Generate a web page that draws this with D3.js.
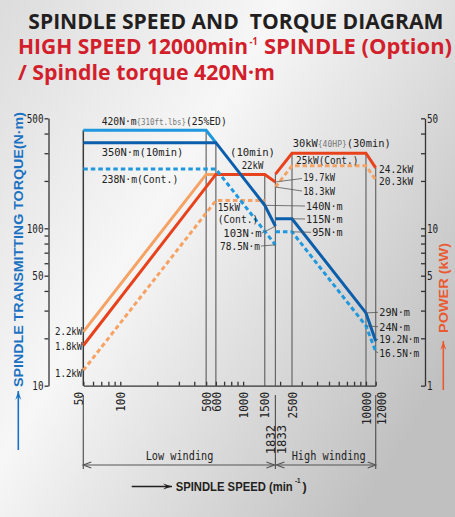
<!DOCTYPE html>
<html><head><meta charset="utf-8">
<script src="https://cdn.jsdelivr.net/npm/d3@7"></script>
<style>
html,body{margin:0;padding:0;background:#ddd;}
svg{display:block;}
text{white-space:pre;}
</style>
</head><body>
<svg id="c" width="455" height="517"></svg>
<script>
// ---------------- DATA ----------------
// [speed min^-1, torque N·m]
const lowTorque25ED   = [[50,420],[500,420],[600,350]];
const lowTorque10min  = [[50,350],[600,350],[1500,140],[1832,103]];
const lowTorqueCont   = [[50,238],[600,238],[1832,78.5]];
const highTorque30min = [[1833,115],[2500,115],[10000,29],[12000,19.2]];
const highTorqueCont  = [[1833,95],[2500,95],[10000,24],[12000,16.5]];
// [speed min^-1, power kW]
const lowPower25ED    = [[50,2.2],[500,22],[600,22]];
const lowPower10min   = [[50,1.8],[600,22],[1500,22],[1832,19.7]];
const lowPowerCont    = [[50,1.25],[600,15],[1500,15]];
const highPower30min  = [[1833,22.1],[2500,30],[10000,30],[12000,24.2]];
const highPowerCont   = [[1833,18.3],[2500,25],[10000,25],[12000,20.3]];

const speedTickLabels  = [50,100,500,600,1000,1500,2500,10000,12000];
const windingTickLabels = [1832,1833];
const torqueTickLabels = [10,50,100,500];
const powerTickLabels  = [1,5,10,50];
const gridSpeeds       = [50,500,600,1500,1832,2500,10000,12000];
const windingBounds    = [50,1832,12000];

// ---------------- SETUP ----------------
const svg = d3.select("#c");
const defs = svg.append("defs");
const bg = defs.append("linearGradient").attr("id","bg")
  .attr("x1","0").attr("y1","0").attr("x2","1").attr("y2","0.7");
bg.append("stop").attr("offset","0").attr("stop-color","#dcdcdc");
bg.append("stop").attr("offset","0.42").attr("stop-color","#f7f7f7");
bg.append("stop").attr("offset","1").attr("stop-color","#c0c0c0");
svg.append("rect").attr("width",455).attr("height",517).attr("fill","url(#bg)");

const MONO = "'DejaVu Sans Mono', monospace";
const SANS = "'Liberation Sans', Arial, sans-serif";
const TITLE = "'Open Sans', 'Noto Sans', sans-serif";

const x  = d3.scaleLog().domain([50,12000]).range([83.3,375.7]);
const yT = d3.scaleLog().domain([10,500]).range([385.7,118.3]);
const yP = d3.scaleLog().domain([1,50]).range([385.7,118.3]);
const lineT = d3.line().x(d=>x(d[0])).y(d=>yT(d[1]));
const lineP = d3.line().x(d=>x(d[0])).y(d=>yP(d[1]));

function fit(sel, w){ if(w) sel.attr("textLength", w).attr("lengthAdjust","spacingAndGlyphs"); return sel; }

// ---------------- TITLES ----------------
fit(svg.append("text").attr("x",28.3).attr("y",28.5)
  .attr("font-family",TITLE).attr("font-weight",700).attr("font-size",21.5)
  .attr("fill","#231f20").text("SPINDLE SPEED AND  TORQUE DIAGRAM"), 415);
fit(svg.append("text").attr("x",18).attr("y",54.3)
  .attr("font-family",TITLE).attr("font-weight",700).attr("font-size",20.5).attr("fill","#d21f2b")
  .text("HIGH SPEED 12000min"), 230);
fit(svg.append("text").attr("x",249.5).attr("y",45)
  .attr("font-family",TITLE).attr("font-weight",700).attr("font-size",10).attr("fill","#d21f2b")
  .text("-1"), 8);
fit(svg.append("text").attr("x",264).attr("y",54.3)
  .attr("font-family",TITLE).attr("font-weight",700).attr("font-size",20.5).attr("fill","#d21f2b")
  .text("SPINDLE (Option)"), 188);
fit(svg.append("text").attr("x",18).attr("y",80)
  .attr("font-family",TITLE).attr("font-weight",700).attr("font-size",20.5)
  .attr("fill","#d21f2b").text("/ Spindle torque 420N·m"), 257);

// ---------------- GRID LINES ----------------
const allSeries = [
  {d:lowTorque25ED,s:yT},{d:lowTorque10min,s:yT},{d:lowTorqueCont,s:yT},
  {d:highTorque30min,s:yT},{d:highTorqueCont,s:yT},
  {d:lowPower25ED,s:yP},{d:lowPower10min,s:yP},{d:lowPowerCont,s:yP},
  {d:highPower30min,s:yP},{d:highPowerCont,s:yP}];
function topY(sp){
  let best = Infinity;
  allSeries.forEach(ser=>{
    const d = ser.d;
    if (sp < d[0][0]-1.5 || sp > d[d.length-1][0]+1.5) return;
    const s = Math.min(Math.max(sp,d[0][0]),d[d.length-1][0]);
    for (let i=0;i<d.length-1;i++){
      if (s>=d[i][0] && s<=d[i+1][0]){
        const t = (Math.log(s)-Math.log(d[i][0]))/(Math.log(d[i+1][0])-Math.log(d[i][0]));
        const v = Math.exp(Math.log(d[i][1])+t*(Math.log(d[i+1][1])-Math.log(d[i][1])));
        best = Math.min(best, ser.s(v));
      }
    }
  });
  return best;
}
const grid = svg.append("g");
grid.selectAll("line").data(gridSpeeds).join("line")
  .attr("x1",d=>x(d)).attr("x2",d=>x(d))
  .attr("y1",d=>topY(d)).attr("y2",yT(10))
  .attr("stroke",d=>d===50?"#3a3a3a":"#666").attr("stroke-width",d=>d===50?1.5:1.2);
grid.selectAll("line.ext").data(windingBounds).join("line").attr("class","ext")
  .attr("x1",d=>x(d)).attr("x2",d=>x(d)).attr("y1",395).attr("y2",469)
  .attr("stroke","#555").attr("stroke-width",1.2);

// ---------------- AXES ----------------
const logTicks = (lo,hi)=>{const r=[];for(let e=0;e<6;e++)for(let m=1;m<10;m++){const v=m*Math.pow(10,e);if(v>=lo&&v<=hi)r.push(v);}return r;};
function styleAxis(g){
  g.selectAll("path,line").attr("stroke","#333").attr("stroke-width",1.3);
  g.selectAll("text").attr("font-family",MONO).attr("font-size",12.5).attr("fill","#222");
}
const gL = svg.append("g").attr("transform","translate(48.5,0)")
  .call(d3.axisLeft(yT).tickValues(logTicks(10,500)).tickSize(4).tickSizeOuter(0).tickPadding(1)
     .tickFormat(d=>torqueTickLabels.includes(d)?String(d):""));
styleAxis(gL);
gL.selectAll("text").each(function(){const t=d3.select(this);const n=t.text().length;if(n)fit(t,n*5.6);});

const gR = svg.append("g").attr("transform","translate(425,0)")
  .call(d3.axisRight(yP).tickValues(logTicks(1,50)).tickSize(-4).tickSizeOuter(0).tickPadding(2)
     .tickFormat(d=>powerTickLabels.includes(d)?String(d):""));
styleAxis(gR);
gR.selectAll("text").each(function(){const t=d3.select(this);const n=t.text().length;if(n)fit(t,n*5.6);});

const gB = svg.append("g").attr("transform",`translate(0,${yT(10)})`)
  .call(d3.axisBottom(x).tickValues(logTicks(50,10000).concat([12000])).tickSize(-4).tickSizeOuter(0).tickFormat(""));
styleAxis(gB);

// rotated speed labels
const labOff = {50:-5, 12000:6};
svg.append("g").selectAll("text").data(speedTickLabels).join("text")
  .attr("transform",d=>`translate(${x(d)+(labOff[d]||0)},392) rotate(-90)`)
  .attr("text-anchor","end").attr("dy","0.36em")
  .attr("font-family",MONO).attr("font-size",13).attr("fill","#222")
  .text(d=>String(d)).each(function(d){fit(d3.select(this),String(d).length*6.6);});
svg.append("g").selectAll("text").data(windingTickLabels).join("text")
  .attr("transform",(d,i)=>`translate(${x(d)+(i===0?-4.8:6.2)},425) rotate(-90)`)
  .attr("text-anchor","end").attr("dy","0.36em")
  .attr("font-family",MONO).attr("font-size",13).attr("fill","#222")
  .text(d=>String(d)).each(function(d){fit(d3.select(this),String(d).length*7.3);});

// winding dimension arrows
const dim = svg.append("g").attr("stroke","#555").attr("stroke-width",1.2).attr("fill","none");
[[50,1832],[1832,12000]].forEach(([a,b])=>{
  const xa=x(a)+(a===1832?1:0), xb=x(b)-(b===1832?1:0), yy=465;
  dim.append("line").attr("x1",xa).attr("x2",xb).attr("y1",yy).attr("y2",yy);
  dim.append("path").attr("d",`M${xa+8},${yy-3}L${xa},${yy}L${xa+8},${yy+3}`);
  dim.append("path").attr("d",`M${xb-8},${yy-3}L${xb},${yy}L${xb-8},${yy+3}`);
});
fit(svg.append("text").attr("x",145.7).attr("y",460).attr("font-family",MONO).attr("font-size",12.5)
  .attr("fill","#222").text("Low winding"),67.7);
fit(svg.append("text").attr("x",291.7).attr("y",460).attr("font-family",MONO).attr("font-size",12.5)
  .attr("fill","#222").text("High winding"),74);

// ---------------- CURVES ----------------
const curves = svg.append("g").attr("fill","none").attr("stroke-width",3);
const ORANGE="#f6a264", RED="#e8421c", LBLUE="#1f98de", DBLUE="#0b5eab";
[[lowPowerCont,lineP,ORANGE,"4.5,3"],[highPowerCont,lineP,ORANGE,"4.5,3"],
 [lowPower25ED,lineP,ORANGE,null],
 [lowPower10min,lineP,RED,null],[highPower30min,lineP,RED,null],
 [lowTorqueCont,lineT,LBLUE,"4.5,3"],[highTorqueCont,lineT,LBLUE,"4.5,3"],
 [lowTorque25ED,lineT,LBLUE,null],
 [lowTorque10min,lineT,DBLUE,null],[highTorque30min,lineT,DBLUE,null]
].forEach(([d,gen,col,dash])=>{
  curves.append("path").attr("d",gen(d)).attr("stroke",col)
    .attr("stroke-dasharray",dash).attr("stroke-linejoin","miter");
});

// ---------------- ANNOTATIONS ----------------
const ann = svg.append("g").attr("font-family",MONO).attr("font-size",11).attr("fill","#222");
function label(parts,x0,cy,w,anchor,fs){
  const t = ann.append("text").attr("x",x0).attr("y",cy).attr("dy","0.36em")
    .attr("text-anchor",anchor||"start");
  if(fs) t.attr("font-size",fs);
  parts.forEach(p=>{
    const s=t.append("tspan").text(p.s);
    if(p.small) s.attr("font-size",8.5).attr("fill","#777");
  });
  fit(t,w);
}
label([{s:"420N·m"},{s:"{310ft.lbs}",small:1},{s:"(25%ED)"}],101.7,121,125);
label([{s:"350N·m(10min)"}],101.7,152.3,81.7);
label([{s:"238N·m(Cont.)"}],101.7,179,76.6);
label([{s:"(10min)"}],230,152.3,45);
label([{s:"22kW"}],241.7,165,21.6);
label([{s:"30kW"},{s:"{40HP}",small:1},{s:"(30min)"}],292.7,142.7,98);
label([{s:"25kW(Cont.)"}],296,160,62.3);
label([{s:"19.7kW"}],303.3,176.7,31.7);
label([{s:"18.3kW"}],303.3,190.7,31.7);
label([{s:"140N·m"}],306,206,36.7);
label([{s:"115N·m"}],306,219,36.7);
label([{s:"95N·m"}],312.3,232.3,30.4);
label([{s:"24.2kW"}],379,169,34.3);
label([{s:"20.3kW"}],379,181,34.3);
label([{s:"15kW"}],217.7,207.4,22.3,null,10.5);
label([{s:"(Cont.)"}],217.7,219.2,40.6,null,10.5);
label([{s:"103N·m"}],223.3,232.7,38.4);
label([{s:"78.5N·m"}],220,246,40);
label([{s:"29N·m"}],379.3,312.3,30.7);
label([{s:"24N·m"}],379.3,326.7,30.7);
label([{s:"19.2N·m"}],379.3,339,40);
label([{s:"16.5N·m"}],379.3,352.7,40);
label([{s:"2.2kW"}],82.3,331,27.3,"end");
label([{s:"1.8kW"}],82.3,346,27.3,"end");
label([{s:"1.2kW"}],82.3,372.7,27.3,"end");

// leaders: [labelX, labelY, pointSpeed, value, scale]
const leaders = svg.append("g").attr("stroke","#555").attr("stroke-width",0.8);
[[302,178.5,1832,19.7,yP],[302,191,1833,18.3,yP],[305,206,1500,140,yT],
 [305,219,2500,115,yT],[311,232.3,2500,95,yT],[262,233,1832,103,yT],
 [261,246,1832,78.5,yT],[378,312.3,10000,29,yT],[378,326.7,10000,24,yT],
 [378,339,12000,19.2,yT],[378,352.7,12000,16.5,yT]
].forEach(([lx,ly,s,v,sc])=>{
  leaders.append("line").attr("x1",lx).attr("y1",ly).attr("x2",x(s)).attr("y2",sc(v));
});

// ---------------- AXIS TITLES ----------------
fit(svg.append("text").attr("transform","translate(18.3,249.5) rotate(-90)")
  .attr("text-anchor","middle").attr("dy","0.36em")
  .attr("font-family",SANS).attr("font-weight",700).attr("font-size",12.5).attr("fill","#1b72c2")
  .text("SPINDLE TRANSMITTING TORQUE(N·m)"),275);
fit(svg.append("text").attr("transform","translate(443.3,288) rotate(-90)")
  .attr("text-anchor","middle").attr("dy","0.36em")
  .attr("font-family",SANS).attr("font-weight",700).attr("font-size",12.5).attr("fill","#ea5a32")
  .text("POWER (kW)"),90);
fit(svg.append("text").attr("x",175.7).attr("y",486.5).attr("dy","0.36em")
  .attr("font-family",SANS).attr("font-weight",700).attr("font-size",12.5).attr("fill","#231f20")
  .text("SPINDLE SPEED (min"),117);
fit(svg.append("text").attr("x",295).attr("y",482.5)
  .attr("font-family",SANS).attr("font-weight",700).attr("font-size",6.5).attr("fill","#231f20")
  .text("-1"),5.6);
svg.append("text").attr("x",302.6).attr("y",486.5).attr("dy","0.36em")
  .attr("font-family",SANS).attr("font-weight",700).attr("font-size",12.5).attr("fill","#231f20")
  .text(")");

// arrows
function arrow(x1,y1,x2,y2,col,w){
  svg.append("line").attr("x1",x1).attr("y1",y1).attr("x2",x2).attr("y2",y2)
    .attr("stroke",col).attr("stroke-width",w);
  const a=Math.atan2(y2-y1,x2-x1), L=9, H=3;
  const b1=[x2-L*Math.cos(a)-H*Math.sin(a), y2-L*Math.sin(a)+H*Math.cos(a)];
  const b2=[x2-L*Math.cos(a)+H*Math.sin(a), y2-L*Math.sin(a)-H*Math.cos(a)];
  const m=[x2-L*0.6*Math.cos(a), y2-L*0.6*Math.sin(a)];
  svg.append("path").attr("d",`M${x2},${y2}L${b1}L${m}L${b2}Z`).attr("fill",col);
}
arrow(18.3,450,18.3,391,"#1b72c2",1.6);
arrow(443.3,390,443.3,341,"#ea5a32",1.6);
arrow(131.7,486.5,172,486.5,"#231f20",1.3);
</script>
</body></html>
